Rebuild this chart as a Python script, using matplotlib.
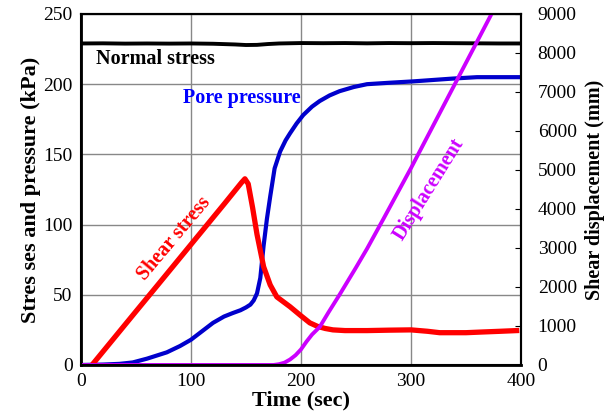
import matplotlib.pyplot as plt

plt.rcParams['font.family'] = ['Liberation Serif', 'DejaVu Serif']

# Normal stress (kPa)
t_normal = [0, 20, 40, 60, 80, 100, 120, 140, 150, 160, 170, 180, 200, 220, 240, 260, 280, 300, 320, 340, 360, 380, 398]
normal = [229.0, 229.1, 228.9, 229.0, 228.9, 229.0, 228.8, 228.3, 227.9, 228.0, 228.6, 229.0, 229.3, 229.2, 229.3, 229.1, 229.3, 229.2, 229.3, 229.2, 229.1, 229.0, 229.0]

# Shear stress (kPa)
t_shear = [10, 30, 50, 70, 90, 110, 130, 146, 149, 152, 156, 160, 166, 172, 178, 184, 190, 200, 208, 215, 222, 229, 240, 260, 280, 300, 315, 326, 340, 350, 365, 381, 396]
shear = [0, 19.1, 38.2, 57.2, 76.3, 95.4, 114.5, 130, 132.6, 129, 112, 93, 70, 57, 48.5, 45, 41.5, 35, 30, 27.5, 26, 25, 24.5, 24.5, 24.8, 25, 24, 23, 23, 23, 23.5, 24, 24.5]

# Pore pressure (kPa)
t_pore = [0, 20, 35, 47, 60, 78, 90, 100, 110, 120, 130, 138, 145, 150, 154, 157, 160, 163, 166, 169, 172, 176, 181, 186, 190, 196, 202, 210, 217, 226, 235, 248, 260, 280, 302, 320, 338, 360, 380, 398]
pore = [0, 0.3, 0.8, 1.8, 4.5, 9, 13.5, 18, 24, 30, 34.5, 37, 39, 41, 43, 46, 51, 62, 85, 104, 120, 140, 152, 160, 165, 172, 178, 184, 188, 192, 195, 198, 200, 201, 202, 203, 204, 205, 205, 205]

# Shear displacement (mm)
t_disp = [0, 175, 180, 185, 190, 195, 200, 205, 210, 217, 225, 235, 250, 260, 275, 300, 325, 350, 375, 400]
disp = [0, 0, 20, 60, 140, 250, 400, 600, 780, 975, 1350, 1800, 2500, 2980, 3750, 5050, 6400, 7750, 9100, 10450]

fig = plt.figure(figsize=(6.15, 4.2), dpi=100)
ax = fig.add_axes([0.1317, 0.131, 0.7155, 0.8357])
ax2 = ax.twinx()

ax.plot(t_normal, normal, color='black', lw=2.8)
ax.plot(t_pore, pore, color='#0000cc', lw=3)
ax.plot(t_shear, shear, color='#ff0000', lw=3.8)
ax2.plot(t_disp, disp, color='#cc00ff', lw=2.8)

ax.set_xlim(0, 400)
ax.set_ylim(0, 250)
ax2.set_ylim(0, 9000)
ax.set_xticks([0, 100, 200, 300, 400])
ax.set_yticks([0, 50, 100, 150, 200, 250])
ax2.set_yticks(range(0, 9001, 1000))

ax.grid(True, color='#888888', lw=1)
ax.set_axisbelow(True)
ax.tick_params(axis='both', length=0, labelsize=14, pad=6)
ax2.tick_params(axis='y', direction='in', length=4, labelsize=14, pad=12)
for a in (ax, ax2):
    for s in a.spines.values():
        s.set_linewidth(1.5)
ax.spines['left'].set_linewidth(2)
ax.spines['bottom'].set_linewidth(2)

ax.set_xlabel('Time (sec)', fontsize=16, fontweight='bold', labelpad=0)
ax.set_ylabel('Stres ses and pressure (kPa)', fontsize=16, fontweight='bold', labelpad=2)
ax2.set_ylabel('Shear displacement (mm)', fontsize=14.5, fontweight='bold', labelpad=6)

ax.text(14, 218, 'Normal stress', fontsize=14.5, fontweight='bold', color='black', va='center')
ax.text(93, 190, 'Pore pressure', fontsize=14.5, fontweight='bold', color='#0000ff', va='center')
ax.text(85, 90, 'Shear stress', fontsize=14.5, fontweight='bold', color='#ff0000',
        rotation=50, ha='center', va='center')
ax.text(316, 125, 'Displacement', fontsize=14.5, fontweight='bold', color='#cc00ff',
        rotation=58, ha='center', va='center')

fig.savefig('out.png', dpi=100)
